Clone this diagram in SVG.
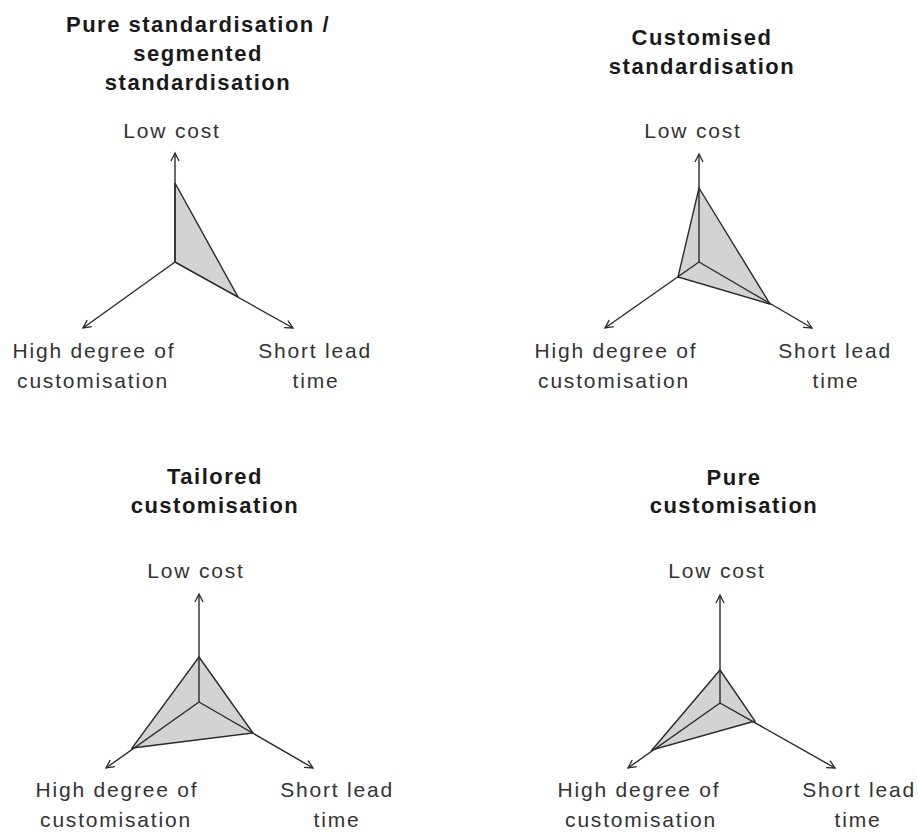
<svg xmlns="http://www.w3.org/2000/svg" width="918" height="833" viewBox="0 0 918 833">
  <style>
    .title { font-family: "Liberation Sans", Arial, sans-serif; font-weight: bold; font-size: 22px; letter-spacing: 1.5px; fill: #1a1a1a; text-anchor: middle; }
    .lbl { font-family: "Liberation Sans", Arial, sans-serif; font-size: 21px; letter-spacing: 1.8px; fill: #333; text-anchor: middle; }
    .axis { stroke: #2a2a2a; stroke-width: 1.4; fill: none; marker-end: url(#arrow); }
    .area { fill: #d3d3d3; stroke: #2a2a2a; stroke-width: 1.4; stroke-linejoin: miter; }
  </style>
  <defs>
    <marker id="arrow" viewBox="-10 -6 12 12" refX="0" refY="0" markerWidth="12" markerHeight="12" markerUnits="userSpaceOnUse" orient="auto">
      <path d="M-8,-4 L0,0 L-8,4" fill="none" stroke="#2a2a2a" stroke-width="1.3"/>
    </marker>
  </defs>
  <rect width="918" height="833" fill="#ffffff"/>

  <!-- Top left: pure / segmented standardisation -->
  <g id="pure-standardisation">
    <text class="title" x="198" y="32">Pure standardisation /</text>
    <text class="title" x="198" y="61">segmented</text>
    <text class="title" x="198" y="90">standardisation</text>
    <polygon class="area" points="175,183 238,297 175,262"/>
    <text class="lbl" x="172" y="138">Low cost</text>
    <text class="lbl" x="94" y="358">High degree of</text>
    <text class="lbl" x="93" y="388">customisation</text>
    <text class="lbl" x="315" y="358">Short lead</text>
    <text class="lbl" x="316" y="388">time</text>
  </g>

  <!-- Top right: customised standardisation -->
  <g id="customised-standardisation">
    <text class="title" x="702" y="45">Customised</text>
    <text class="title" x="702" y="74">standardisation</text>
    <polygon class="area" points="699,188 770,304 678,277"/>
    <text class="lbl" x="693" y="138">Low cost</text>
    <text class="lbl" x="616" y="358">High degree of</text>
    <text class="lbl" x="614" y="388">customisation</text>
    <text class="lbl" x="835" y="358">Short lead</text>
    <text class="lbl" x="836" y="388">time</text>
  </g>

  <!-- Bottom left: tailored customisation -->
  <g id="tailored-customisation">
    <text class="title" x="215" y="484">Tailored</text>
    <text class="title" x="215" y="513">customisation</text>
    <polygon class="area" points="199,657 253,733 132,748"/>
    <text class="lbl" x="196" y="578">Low cost</text>
    <text class="lbl" x="117" y="797">High degree of</text>
    <text class="lbl" x="116" y="827">customisation</text>
    <text class="lbl" x="337" y="797">Short lead</text>
    <text class="lbl" x="337" y="827">time</text>
  </g>

  <!-- Bottom right: pure customisation -->
  <g id="pure-customisation">
    <text class="title" x="734" y="485">Pure</text>
    <text class="title" x="734" y="513">customisation</text>
    <polygon class="area" points="720,670 755,721 652,750"/>
    <text class="lbl" x="717" y="578">Low cost</text>
    <text class="lbl" x="639" y="797">High degree of</text>
    <text class="lbl" x="641" y="827">customisation</text>
    <text class="lbl" x="859" y="797">Short lead</text>
    <text class="lbl" x="858" y="827">time</text>
  </g>

  <!-- Three-axis arrows for each chart -->
  <g id="connectors">
    <line class="axis" x1="175" y1="262" x2="175" y2="153"/>
    <line class="axis" x1="175" y1="262" x2="83" y2="328"/>
    <line class="axis" x1="175" y1="262" x2="293" y2="328"/>

    <line class="axis" x1="699" y1="262" x2="699" y2="154"/>
    <line class="axis" x1="699" y1="262" x2="605" y2="328"/>
    <line class="axis" x1="699" y1="262" x2="812" y2="328"/>

    <line class="axis" x1="199" y1="702" x2="199" y2="594"/>
    <line class="axis" x1="199" y1="702" x2="106" y2="768"/>
    <line class="axis" x1="199" y1="702" x2="313" y2="768"/>

    <line class="axis" x1="720" y1="703" x2="720" y2="595"/>
    <line class="axis" x1="720" y1="703" x2="628" y2="768"/>
    <line class="axis" x1="720" y1="703" x2="835" y2="768"/>
  </g>
</svg>
